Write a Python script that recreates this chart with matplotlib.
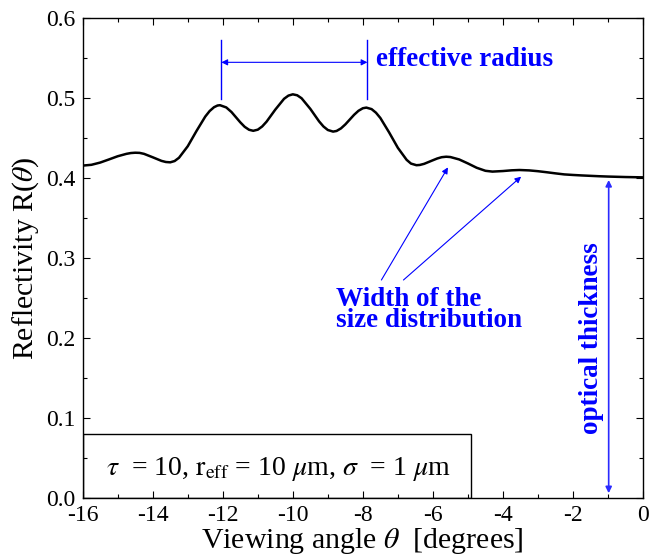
import matplotlib
matplotlib.use("Agg")
import matplotlib.pyplot as plt
from matplotlib.ticker import MultipleLocator, FormatStrFormatter
from matplotlib.patches import Rectangle

plt.rcParams['font.family'] = ['Liberation Serif', 'DejaVu Serif']
plt.rcParams['mathtext.fontset'] = 'stix'

# data
angle = [-16, -15.75, -15.5, -15.25, -15, -14.75, -14.625, -14.5, -14.375, -14.25, -14, -13.75,
         -13.625, -13.5, -13.375, -13.25, -13, -12.75, -12.5, -12.375, -12.25, -12.15, -12.08,
         -11.9, -11.75, -11.5, -11.375, -11.25,
         -11.13, -11.0, -10.875, -10.75, -10.5, -10.25, -10.125, -10, -9.875, -9.75, -9.5, -9.25,
         -9.125, -9.0, -8.85, -8.75, -8.625, -8.5, -8.25, -8.125, -8.0, -7.9, -7.75, -7.625,
         -7.5, -7.25, -7.0, -6.75, -6.625, -6.47, -6.375, -6.25, -6.0, -5.875, -5.75, -5.62,
         -5.5, -5.25, -5.0, -4.75,
         -4.5, -4.3, -4.0, -3.75, -3.53, -3.25, -3.0, -2.75, -2.5, -2.25,
         -2.0, -1.75, -1.5, -1.25, -1.0, -0.75, -0.5, -0.25, 0]
reflectivity = [0.4155, 0.4165, 0.4193, 0.4232, 0.4272, 0.4302, 0.4312, 0.4316, 0.4314, 0.4302, 0.4259, 0.4214,
                0.4200, 0.4196, 0.4212, 0.4253, 0.4397, 0.4588, 0.4768, 0.4837, 0.4885, 0.4906, 0.4910,
                0.4882, 0.4824, 0.4696, 0.4640, 0.4603,
                0.4590, 0.4604, 0.4644, 0.4704, 0.4855, 0.4990, 0.5030, 0.5046, 0.5034, 0.4997, 0.4864, 0.4708,
                0.4644, 0.4600, 0.4580, 0.4588, 0.4620, 0.4670, 0.4790, 0.4840, 0.4872, 0.4880, 0.4861, 0.4816,
                0.4750, 0.4570, 0.4377, 0.4227, 0.4180, 0.4160, 0.4163, 0.4177, 0.4222, 0.4244, 0.4260, 0.4266,
                0.4262, 0.4232, 0.4182, 0.4128,
                0.4090, 0.4080, 0.4087, 0.4096, 0.4100, 0.4095, 0.4085, 0.4072, 0.4058, 0.4045,
                0.4038, 0.4032, 0.4027, 0.4022, 0.4018, 0.4015, 0.4012, 0.4010, 0.4008]

xticks = [-16, -14, -12, -10, -8, -6, -4, -2, 0]
yticks = [0.0, 0.1, 0.2, 0.3, 0.4, 0.5, 0.6]

BLUE = '#0000ff'

fig = plt.figure(figsize=(6.49, 5.58), dpi=100)
ax = fig.add_axes([82.7/649, 60/558, 560.3/649, 480/558])

ax.plot(angle, reflectivity, color='black', lw=1.8, zorder=3, solid_joinstyle='round')

ax.set_xlim(-16, 0)
ax.set_ylim(0, 0.6)
ax.set_xticks(xticks)
ax.set_xticklabels([str(t) for t in xticks])
ax.set_yticks(yticks)
ax.yaxis.set_major_formatter(FormatStrFormatter('%.1f'))
ax.xaxis.set_minor_locator(MultipleLocator(1))
ax.yaxis.set_minor_locator(MultipleLocator(0.05))
ax.tick_params(which='both', direction='in', top=True, right=True, labelsize=17, width=0.8)
ax.tick_params(which='major', length=5, pad=5)
ax.tick_params(which='minor', length=3)
for s in ax.spines.values():
    s.set_linewidth(1.0)

ax.set_xlabel(r'Viewing angle $\theta$  [degrees]', fontsize=21.5, labelpad=0)
ax.set_ylabel(r'Reflectivity R($\theta$)', fontsize=21.5, labelpad=4)

# effective radius marker
for xv in (-12.04, -7.87):
    ax.plot([xv, xv], [0.499, 0.5725], color=BLUE, lw=1.0)
ax.annotate('', xy=(-12.04, 0.5446), xytext=(-7.87, 0.5446),
            arrowprops=dict(arrowstyle='<|-|>', color=BLUE, lw=0.8,
                            mutation_scale=9, shrinkA=0, shrinkB=0))
ax.text(-7.62, 0.5475, 'effective radius', color=BLUE, fontsize=19.5,
        fontweight='bold', ha='left', va='center')

# width of size distribution
ax.annotate('', xy=(-5.57, 0.4133), xytext=(-7.47, 0.2725),
            arrowprops=dict(arrowstyle='-|>', color=BLUE, lw=0.8,
                            mutation_scale=9, shrinkA=0, shrinkB=0))
ax.annotate('', xy=(-3.48, 0.4017), xytext=(-6.84, 0.2725),
            arrowprops=dict(arrowstyle='-|>', color=BLUE, lw=0.8,
                            mutation_scale=9, shrinkA=0, shrinkB=0))
ax.text(-8.76, 0.235, 'Width of the\nsize distribution', color=BLUE, fontsize=19.5,
        fontweight='bold', ha='left', va='center', linespacing=0.8)

# optical thickness
ax.annotate('', xy=(-0.98, 0.3975), xytext=(-0.98, 0.006),
            arrowprops=dict(arrowstyle='<|-|>', color='#2a2aff', lw=1.2,
                            mutation_scale=9, shrinkA=0, shrinkB=0))
ax.text(-1.47, 0.20, 'optical thickness', color=BLUE, fontsize=19.5,
        fontweight='bold', rotation=90, ha='center', va='center')

# parameter box
ax.add_patch(Rectangle((-16, 0.0), 11.08, 0.08, fill=False, edgecolor='black', lw=1.0, zorder=4))
ax.text(-10.42, 0.036, r'$\tau$  = 10, $\mathrm{r}_{\mathrm{eff}}$ = 10 $\mu$m, $\sigma$  = 1 $\mu$m',
        fontsize=20, ha='center', va='center')

fig.savefig('out.png', dpi=100)
